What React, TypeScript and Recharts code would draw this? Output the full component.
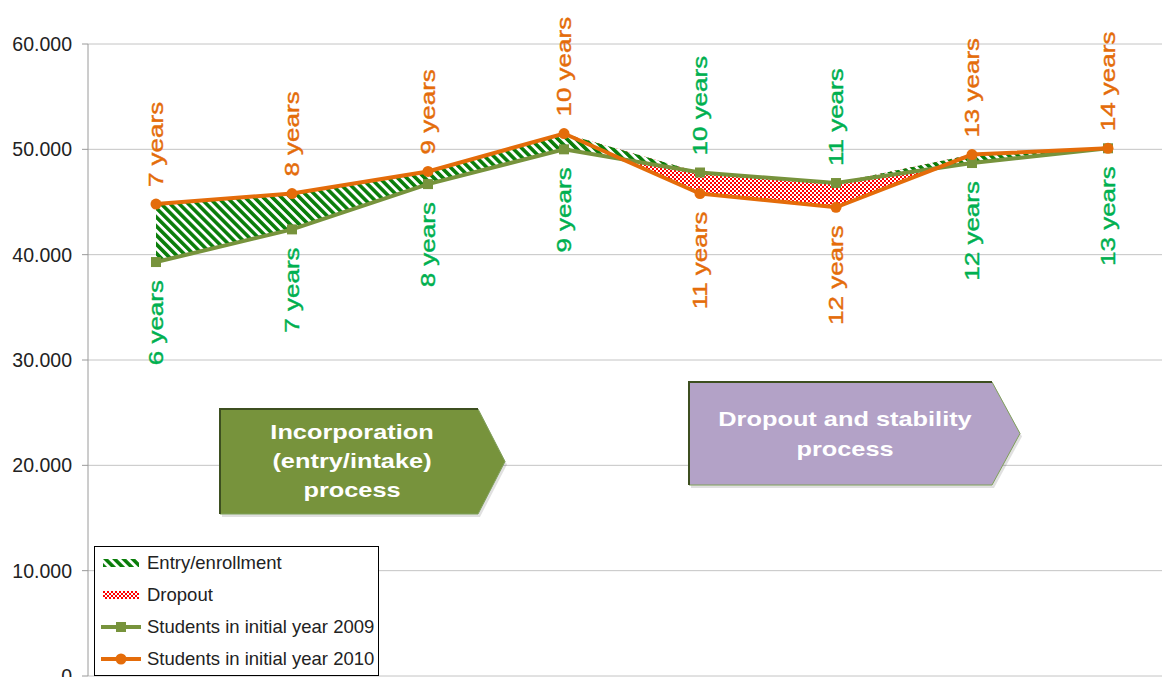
import React from "react";
import { Area, CartesianGrid, ComposedChart, LabelList, Legend, Line, XAxis, YAxis } from "recharts";

// cohort positions along the x axis (labels are hidden in the chart)
const stages = ["1", "2", "3", "4", "5", "6", "7", "8"];
const students2009 = [39300, 42400, 46700, 50000, 47800, 46800, 48700, 50100];
const students2010 = [44800, 45800, 47900, 51500, 45800, 44500, 49500, 50100];
const ages2009 = ["6 years", "7 years", "8 years", "9 years", "10 years", "11 years", "12 years", "13 years"];
const ages2010 = ["7 years", "8 years", "9 years", "10 years", "11 years", "12 years", "13 years", "14 years"];
const yTicks = [0, 10000, 20000, 30000, 40000, 50000, 60000];
const legendLabels = ["Entry/enrollment", "Dropout", "Students in initial year 2009", "Students in initial year 2010"];
const incorporationText = ["Incorporation", "(entry/intake)", "process"];
const dropoutText = ["Dropout and stability", "process"];

const green2009 = "#77933C";
const orange2010 = "#E46C0A";
const greenText = "#00B050";
const font = "'Liberation Sans', Arial, sans-serif";

// excel-style stacked differences: entry sits on the 2009 line, dropout on the 2010 line
const data = stages.map((stage, i) => {
  const a = students2009[i];
  const b = students2010[i];
  return {
    stage,
    y2009: a,
    y2010: b,
    entry: [a, a + Math.max(0, b - a)],
    dropout: [b, b + Math.max(0, a - b)],
  };
});

const fmt = (v: number) => (v === 0 ? "0" : String(v).replace(/\B(?=(\d{3})+(?!\d))/g, "."));

function yearsLabel(series: "2009" | "2010") {
  return (props: any) => {
    const { x, y, index } = props;
    const a = students2009[index];
    const b = students2010[index];
    const above = series === "2010" ? b >= a : a > b;
    const text = series === "2009" ? ages2009[index] : ages2010[index];
    const y0 = above ? y - 17 : y + 18;
    return (
      <text
        key={`${series}-${index}`}
        transform={`translate(${x},${y0}) rotate(-90) scale(1.3,1)`}
        textAnchor={above ? "start" : "end"}
        dominantBaseline="central"
        fontSize={20}
        fontFamily={font}
        fill={series === "2009" ? greenText : orange2010}
        stroke={series === "2009" ? greenText : orange2010}
        strokeWidth={0.4}
      >
        {text}
      </text>
    );
  };
}

function SquareDot(props: any) {
  const { cx, cy, index } = props;
  return <rect key={`sq-${index}`} x={cx - 5} y={cy - 5} width={10} height={10} fill={green2009} />;
}

function RoundDot(props: any) {
  const { cx, cy, index } = props;
  return <circle key={`ci-${index}`} cx={cx} cy={cy} r={5.5} fill={orange2010} />;
}

function Swatch({ kind }: { kind: number }) {
  if (kind === 0) return <rect x={2} y={2} width={36} height={8} fill="url(#entryHatch)" />;
  if (kind === 1) return <rect x={2} y={2} width={36} height={8} fill="url(#dropoutCheck)" />;
  const c = kind === 2 ? green2009 : orange2010;
  return (
    <g>
      <line x1={0} y1={6} x2={40} y2={6} stroke={c} strokeWidth={4} />
      {kind === 2 ? <rect x={15} y={1} width={10} height={10} fill={c} /> : <circle cx={20} cy={6} r={5.5} fill={c} />}
    </g>
  );
}

function LegendBox() {
  return (
    <div
      style={{
        boxSizing: "border-box",
        width: 285,
        height: 130,
        border: "1px solid #000",
        background: "#fff",
        fontFamily: font,
        fontSize: 18.5,
        color: "#222",
      }}
    >
      {legendLabels.map((label, i) => (
        <div key={label} style={{ height: 32, display: "flex", alignItems: "center" }}>
          <svg width={40} height={12} style={{ marginLeft: 6, marginRight: 6 }}>
            <Swatch kind={i} />
          </svg>
          <span style={{ whiteSpace: "nowrap" }}>{label}</span>
        </div>
      ))}
    </div>
  );
}

function ProcessArrow({
  left,
  top,
  bodyRight,
  tip,
  bottom,
  fill,
  cx,
  lines,
  firstY,
  step,
}: {
  left: number;
  top: number;
  bodyRight: number;
  tip: number;
  bottom: number;
  fill: string;
  cx: number;
  lines: string[];
  firstY: number;
  step: number;
}) {
  const mid = (top + bottom) / 2;
  const pts = `${left},${top} ${bodyRight},${top} ${tip},${mid} ${bodyRight},${bottom} ${left},${bottom}`;
  return (
    <g>
      <polygon points={pts} fill="rgba(0,0,0,0.12)" transform="translate(2,3)" />
      <polygon points={pts} fill={fill} stroke="#7fa05a" strokeWidth={1} />
      <polyline points={`${left},${bottom} ${left},${top} ${bodyRight},${top}`} fill="none" stroke="#3d4f20" strokeWidth={2} />
      {lines.map((line, i) => (
        <text
          key={line}
          transform={`translate(${cx},${firstY + i * step}) scale(1.3,1)`}
          textAnchor="middle"
          dominantBaseline="central"
          fontFamily={font}
          fontWeight="bold"
          fontSize={19.5}
          fill="#fff"
        >
          {line}
        </text>
      ))}
    </g>
  );
}

export default function App() {
  return (
    <div
      style={{
        position: "absolute",
        left: 0,
        top: 0,
        width: 1162,
        height: 677,
        overflow: "hidden",
        background: "#fff",
      }}
    >
      <svg width={0} height={0} style={{ position: "absolute" }}>
        <defs>
          <pattern id="entryHatch" patternUnits="userSpaceOnUse" width={6.4} height={6.4} patternTransform="rotate(-45)">
            <rect width={6.4} height={6.4} fill="#fff" />
            <rect width={3.6} height={6.4} fill="#0a7d0a" />
          </pattern>
          <pattern id="dropoutCheck" patternUnits="userSpaceOnUse" width={4} height={4}>
            <rect width={4} height={4} fill="#fff" />
            <rect width={2} height={2} fill="#ff0000" />
            <rect x={2} y={2} width={2} height={2} fill="#ff0000" />
          </pattern>
        </defs>
      </svg>
      <ComposedChart
        width={1190}
        height={720}
        data={data}
        margin={{ top: 44, right: 14, bottom: 44, left: 0 }}
        style={{ fontFamily: font }}
      >
        <CartesianGrid vertical={false} stroke="#c4c4c4" />
        <XAxis
          dataKey="stage"
          tick={false}
          tickLine={false}
          height={0}
          padding={{ left: 68, right: 68 }}
          axisLine={{ stroke: "#9a9a9a" }}
        />
        <YAxis
          width={88}
          domain={[0, 60000]}
          ticks={yTicks}
          tickFormatter={fmt}
          tickSize={6}
          tickMargin={10}
          axisLine={{ stroke: "#9a9a9a" }}
          tickLine={{ stroke: "#9a9a9a" }}
          tick={{ fill: "#222", fontSize: 19.5, fontFamily: font }}
        />
        <Area dataKey="dropout" stroke="none" fill="url(#dropoutCheck)" fillOpacity={1} isAnimationActive={false} />
        <Area dataKey="entry" stroke="none" fill="url(#entryHatch)" fillOpacity={1} isAnimationActive={false} />
        <Line
          dataKey="y2009"
          stroke={green2009}
          strokeWidth={4}
          dot={SquareDot}
          activeDot={false}
          isAnimationActive={false}
        >
          <LabelList dataKey="y2009" content={yearsLabel("2009")} />
        </Line>
        <Line
          dataKey="y2010"
          stroke={orange2010}
          strokeWidth={4}
          dot={RoundDot}
          activeDot={false}
          isAnimationActive={false}
        >
          <LabelList dataKey="y2010" content={yearsLabel("2010")} />
        </Line>
        <Legend
          layout="vertical"
          align="center"
          verticalAlign="middle"
          content={() => <LegendBox />}
          wrapperStyle={{ left: 94, top: 546, width: 285, height: 130 }}
        />
      </ComposedChart>
      <svg width={1162} height={677} style={{ position: "absolute", left: 0, top: 0, pointerEvents: "none" }}>
        <ProcessArrow
          left={220}
          top={409}
          bodyRight={478}
          tip={505}
          bottom={514}
          fill={green2009}
          cx={352}
          lines={incorporationText}
          firstY={433}
          step={29}
        />
        <ProcessArrow
          left={689}
          top={382}
          bodyRight={992}
          tip={1020}
          bottom={485}
          fill="#B3A2C7"
          cx={845}
          lines={dropoutText}
          firstY={420}
          step={30}
        />
      </svg>
    </div>
  );
}
